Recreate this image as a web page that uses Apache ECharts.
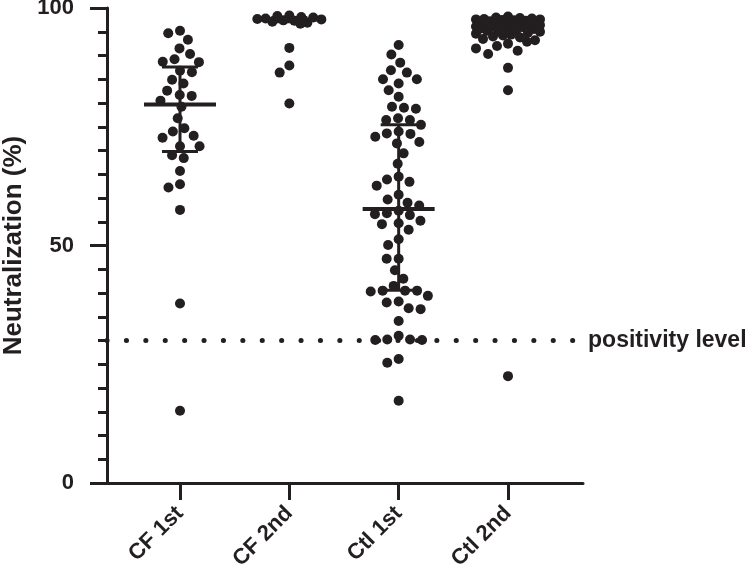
<!DOCTYPE html>
<html>
<head>
<meta charset="utf-8">
<script src="https://cdn.jsdelivr.net/npm/echarts@6/dist/echarts.min.js"></script>
<style>
  html, body { margin: 0; padding: 0; background: #fff; }
  #chart_box { width: 750px; height: 576px; }
</style>
</head>
<body>
<div id="chart_box"></div>
<script>
// groups on the x axis
const categories = ['CF 1st', 'CF 2nd', 'Ctl 1st', 'Ctl 2nd'];

// neutralization (%) per subject
const cf1st = [95.2, 94.7, 93.3, 91.5, 90.3, 89.2, 88.7, 88.6, 86.8, 86.5, 84.9, 84.1,
  82.6, 81.7, 81.5, 80.5, 79.2, 76.8, 74.7, 74.0, 73.1, 72.7, 70.9, 70.9, 69.0, 68.4,
  65.7, 62.9, 62.2, 57.5, 37.8, 15.2];
const cf2nd = [98.4, 98.3, 98.1, 98.0, 97.8, 97.7, 97.6, 97.4, 97.3, 97.1, 96.9, 96.7,
  91.6, 87.9, 86.4, 79.9];
const ctl1st = [92.2, 90.2, 88.5, 86.9, 86.4, 85.0, 85.0, 84.1, 82.7, 81.3, 79.0, 79.2,
  78.8, 76.4, 76.8, 76.4, 75.4, 73.6, 74.0, 73.5, 72.9, 71.8, 71.5, 69.4, 67.2, 64.5,
  63.9, 63.4, 62.6, 60.7, 59.7, 59.0, 58.4, 57.3, 56.4, 56.8, 56.6, 54.5, 54.7, 55.2,
  53.3, 51.3, 50.1, 47.2, 47.2, 44.8, 43.0, 41.5, 40.5, 40.5, 40.5, 40.3, 39.4, 38.2,
  38.0, 36.8, 36.6, 34.1, 30.1, 30.1, 30.2, 31.0, 30.2, 26.1, 25.3, 17.3];
const ctl2nd = [98.2, 98.0, 97.9, 97.8, 97.7, 97.6, 97.6, 97.5, 97.4, 97.3, 97.2, 97.1,
  97.0, 96.9, 96.8, 96.7, 96.6, 96.5, 96.4, 96.3, 96.2, 96.1, 96.0, 95.9, 95.8, 95.7,
  95.6, 95.5, 95.4, 95.2, 95.0, 94.8, 94.6, 94.4, 94.2, 94.0, 93.8, 93.5, 93.2, 92.9,
  92.5, 92.0, 91.5, 91.0, 90.3, 87.4, 82.7, 22.5];

// median and interquartile range per group
const medians = [79.7, 97.6, 57.7, 96.1];
const q1 = [69.8, 97.1, 40.6, 94.3];
const q3 = [87.6, 98.0, 75.4, 97.3];

const yTicks = [0, 50, 100];
const positivity = 30;

const ink = '#231f20';
const font = '"Liberation Sans", Arial, sans-serif';
const DOT = 10;
const GAP = 12; // spacing used when laying out the swarm
const xMin = 0.3323, xMax = 4.686, lineEnd = 4.604;

const myChart = echarts.init(document.getElementById('chart_box'));

myChart.setOption({
  animation: false,
  textStyle: { fontFamily: font },
  grid: { left: 107, top: 8, width: 476, height: 475, outerBoundsMode: 'none', containLabel: false },
  xAxis: {
    type: 'value', min: xMin, max: xMax,
    splitLine: { show: false },
    axisLine: { show: true, lineStyle: { color: ink, width: 3 } },
    axisTick: { show: true, customValues: [1, 2, 3, 4], length: 17, lineStyle: { color: ink, width: 3 } },
    axisLabel: {
      customValues: [1, 2, 3, 4],
      formatter: v => categories[Math.round(v) - 1],
      rotate: 45, margin: 27,
      fontSize: 22, fontWeight: 'bold', color: ink, fontFamily: font
    }
  },
  yAxis: {
    type: 'value', min: yTicks[0], max: yTicks[2], interval: yTicks[1] - yTicks[0],
    splitLine: { show: false },
    axisLine: { show: true, lineStyle: { color: ink, width: 3 } },
    axisTick: { show: true, length: 17, lineStyle: { color: ink, width: 3 } },
    minorTick: { show: true, splitNumber: 10, length: 9, lineStyle: { color: ink, width: 3 } },
    axisLabel: { margin: 33, fontSize: 22, fontWeight: 'bold', color: ink, fontFamily: font },
    name: 'Neutralization (%)', nameLocation: 'middle', nameGap: 80,
    nameTextStyle: { fontSize: 26, fontWeight: 'bold', color: ink, fontFamily: font }
  }
});

// beeswarm offsets, worked out in pixels through the chart's own scales
const p1 = myChart.convertToPixel({ gridIndex: 0 }, [1, 0]);
const p2 = myChart.convertToPixel({ gridIndex: 0 }, [2, 0]);
const pxPerUnit = p2[0] - p1[0];

function swarm(values, maxHalf) {
  const pts = values.map(v => ({ y: myChart.convertToPixel({ gridIndex: 0 }, [1, v])[1], x: 0 }));
  const order = pts.slice().sort((a, b) => a.y - b.y);
  const placed = [];
  order.forEach(p => {
    const near = placed.filter(q => Math.abs(q.y - p.y) < GAP);
    const cands = [0];
    near.forEach(q => {
      const dx = Math.sqrt(GAP * GAP - (q.y - p.y) ** 2);
      cands.push(q.x + dx, q.x - dx);
    });
    const ok = cands.filter(c => Math.abs(c) <= maxHalf &&
      near.every(q => Math.hypot(q.x - c, q.y - p.y) >= GAP - 0.01));
    if (ok.length) {
      ok.sort((a, b) => Math.abs(a) - Math.abs(b) || a - b);
      p.x = ok[0];
    } else {
      let best = 0, bestD = -1;
      for (let c = -maxHalf; c <= maxHalf; c += 1) {
        const md = Math.min(...near.map(q => Math.hypot(q.x - c, q.y - p.y)));
        if (md > bestD + 0.01 || (Math.abs(md - bestD) <= 0.01 && Math.abs(c) < Math.abs(best))) {
          bestD = md; best = c;
        }
      }
      p.x = best;
    }
    placed.push(p);
  });
  return pts.map(p => p.x / pxPerUnit);
}

const groups = [cf1st, cf2nd, ctl1st, ctl2nd];
const dotSeries = groups.map((vals, g) => {
  const off = swarm(vals, 32);
  return {
    type: 'scatter', name: categories[g],
    symbol: 'circle', symbolSize: DOT,
    itemStyle: { color: ink, opacity: 1 },
    data: vals.map((v, i) => [g + 1 + off[i], v]),
    z: 2
  };
});

myChart.setOption({
  series: dotSeries.concat([{
    type: 'custom',
    z: 3,
    data: categories.map((c, i) => [i + 1, medians[i], q1[i], q3[i]]),
    renderItem: (params, api) => {
      const x = api.value(0);
      const m = api.coord([x, api.value(1)]);
      const lo = api.coord([x, api.value(2)]);
      const hi = api.coord([x, api.value(3)]);
      const st = { stroke: ink, lineWidth: 3 };
      return {
        type: 'group',
        children: [
          { type: 'line', shape: { x1: m[0] - 36, y1: m[1], x2: m[0] + 36, y2: m[1] }, style: { stroke: ink, lineWidth: 4 } },
          { type: 'line', shape: { x1: lo[0], y1: lo[1], x2: hi[0], y2: hi[1] }, style: st },
          { type: 'line', shape: { x1: lo[0] - 18, y1: lo[1], x2: lo[0] + 18, y2: lo[1] }, style: st },
          { type: 'line', shape: { x1: hi[0] - 18, y1: hi[1], x2: hi[0] + 18, y2: hi[1] }, style: st }
        ]
      };
    },
    markLine: {
      silent: true,
      symbol: ['none', 'none'],
      lineStyle: { color: ink, width: 5, type: [0.1, 19.3], cap: 'round', opacity: 1 },
      label: {
        show: true, position: 'end', distance: 14, formatter: 'positivity level',
        fontSize: 23, fontWeight: 'bold', color: ink, fontFamily: font
      },
      emphasis: { disabled: true },
      data: [[{ coord: [xMin, positivity] }, { coord: [lineEnd, positivity] }]]
    }
  }])
});
</script>
</body>
</html>
